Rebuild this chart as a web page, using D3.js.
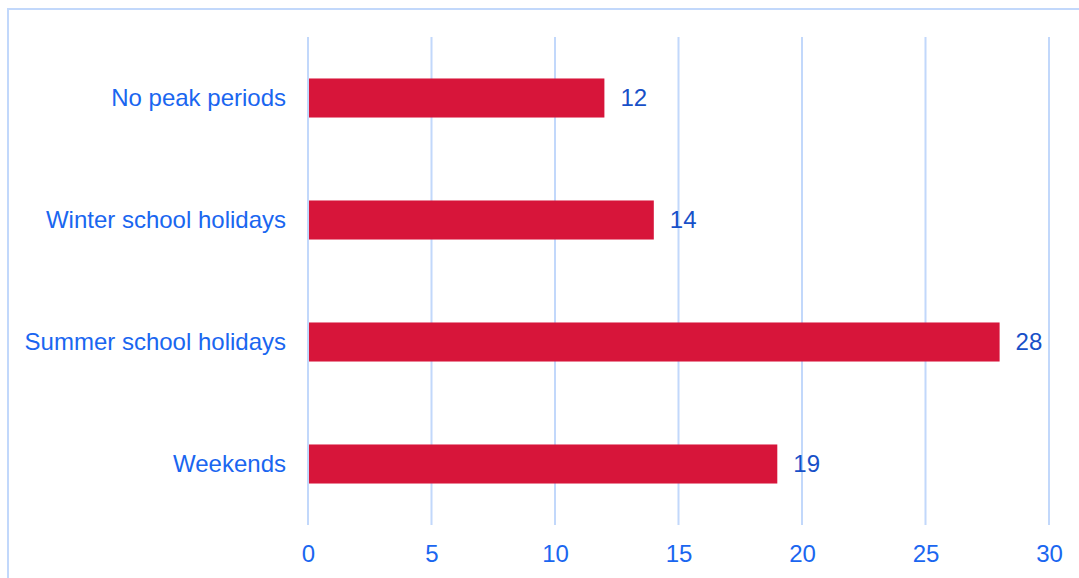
<!DOCTYPE html>
<html>
<head>
<meta charset="utf-8">
<script src="https://cdn.jsdelivr.net/npm/d3@7"></script>
<style>
  body { margin: 0; background: #fff; }
  svg { display: block; font-family: 'Liberation Sans', Arial, sans-serif; }
</style>
</head>
<body>
<svg width="1079" height="578"></svg>
<script>
const categories = ['No peak periods', 'Winter school holidays', 'Summer school holidays', 'Weekends']
const values = [12, 14, 28, 19]
const xTicks = [0, 5, 10, 15, 20, 25, 30]

const svg = d3.select('svg')
const margin = { top: 37, right: 30, bottom: 53, left: 308 }

// outer frame, runs off the right and bottom edges
svg.append('rect')
  .attr('x', 8).attr('y', 9)
  .attr('width', 1100).attr('height', 600)
  .attr('fill', 'none')
  .attr('stroke', '#c2d8fb')
  .attr('stroke-width', 2)

const g = svg.append('g')
  .attr('transform', 'translate(' + margin.left + ',' + margin.top + ')')

const x = d3.scaleLinear().domain([0, 30]).range([0, 741])
const y = d3.scaleBand().domain(categories).range([0, 488]).paddingInner(0.68).paddingOuter(0.34)

g.append('g')
  .selectAll('line')
  .data(xTicks)
  .enter()
  .append('line')
  .attr('x1', d => x(d)).attr('x2', d => x(d))
  .attr('y1', 0).attr('y2', 488)
  .attr('stroke', '#c2d8fb')
  .attr('stroke-width', 2)

const xAxis = g.append('g')
  .attr('transform', 'translate(0,488)')
  .call(d3.axisBottom(x).tickValues(xTicks).tickSize(0).tickPadding(20))
xAxis.select('.domain').remove()
xAxis.selectAll('text')
  .attr('fill', '#1a66f0')
  .style('font-size', '24px')
  .attr('dy', '0.71em')

const yAxis = g.append('g')
  .call(d3.axisLeft(y).tickSize(0).tickPadding(22))
yAxis.select('.domain').remove()
yAxis.selectAll('text')
  .attr('fill', '#1a66f0')
  .style('font-size', '24px')

g.append('g')
  .selectAll('rect')
  .data(values)
  .enter()
  .append('rect')
  .attr('x', 1)
  .attr('y', (d, i) => y(categories[i]))
  .attr('width', d => x(d) - 1)
  .attr('height', y.bandwidth())
  .attr('fill', '#d7153a')

g.append('g')
  .selectAll('text')
  .data(values)
  .enter()
  .append('text')
  .attr('x', d => x(d) + 16)
  .attr('y', (d, i) => y(categories[i]) + y.bandwidth() / 2)
  .attr('dy', '0.35em')
  .attr('fill', '#1750c8')
  .style('font-size', '24px')
  .text(d => d)
</script>
</body>
</html>
